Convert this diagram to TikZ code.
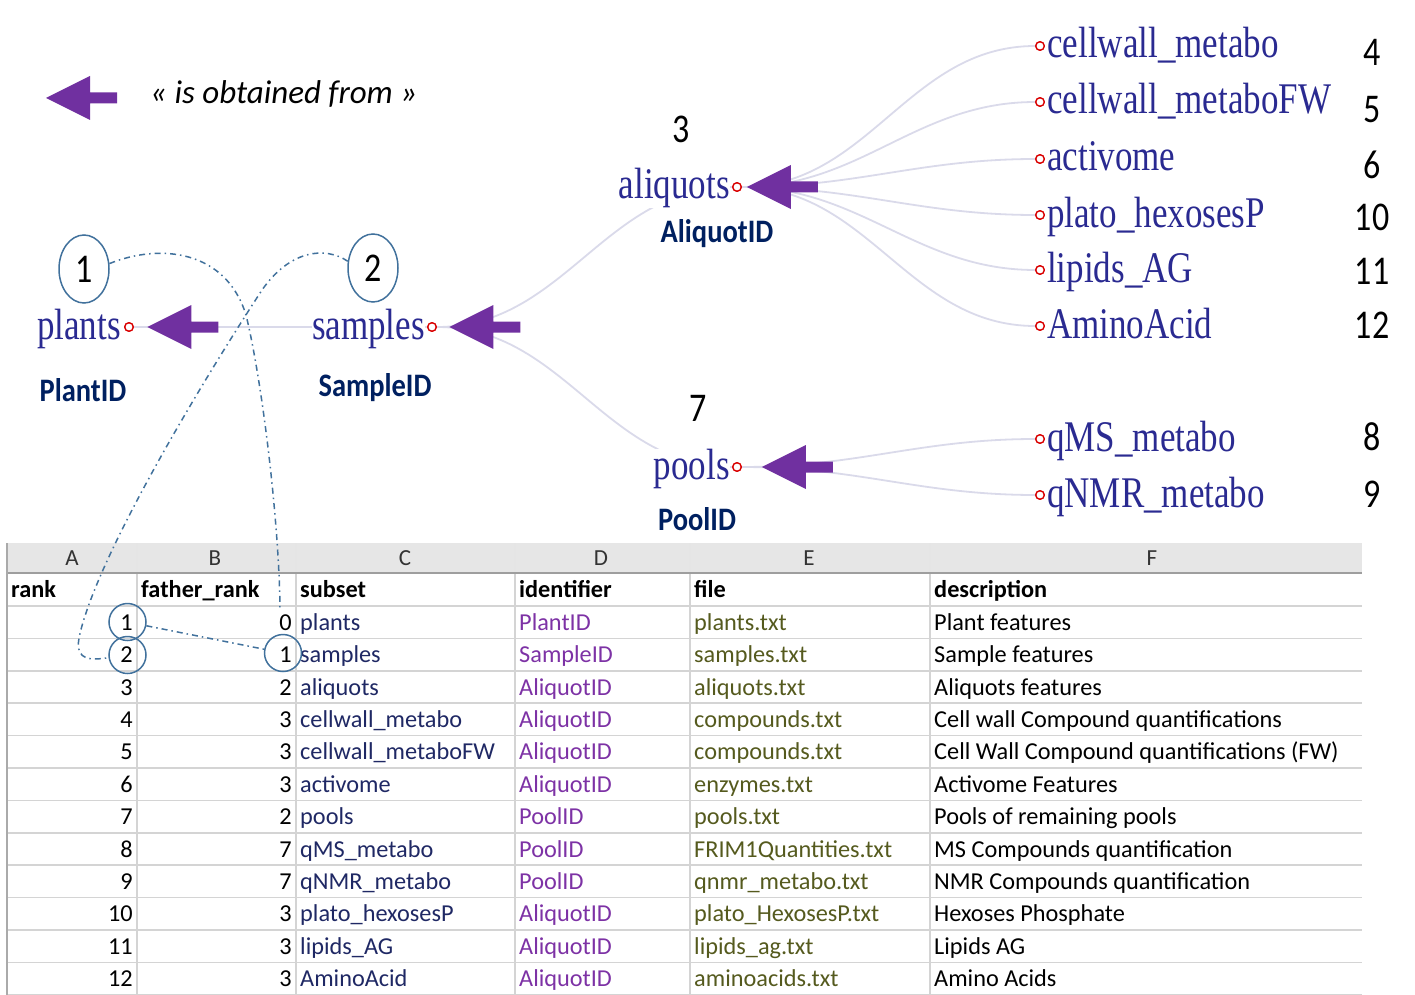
\documentclass[tikz,border=0pt]{standalone}
\usepackage{fontspec}
\usepackage{graphicx}
\setmainfont{Carlito}
\newfontfamily\tnr{Liberation Serif}
\usetikzlibrary{shapes.geometric,calc}
\definecolor{apurple}{RGB}{112,48,160}
\definecolor{lblue}{RGB}{42,42,145}
\definecolor{linkc}{RGB}{218,218,234}
\definecolor{idnavy}{RGB}{0,32,96}
\definecolor{dashc}{RGB}{65,113,156}
\definecolor{subc}{RGB}{31,40,100}
\definecolor{identc}{RGB}{125,50,165}
\definecolor{filec}{RGB}{85,90,30}
\definecolor{gridc}{RGB}{212,212,212}
\definecolor{hdrbg}{RGB}{230,230,230}
\definecolor{hdrline}{RGB}{158,158,158}
\newcommand\vst[2]{\scalebox{1}[#1]{#2}}
\newcommand\blockarrow[1]{\fill[apurple] (#1) -- ++(44,22) -- ++(0,-16.5) -- ++(27,0) -- ++(0,-11) -- ++(-27,0) -- ++(0,-16.5) -- cycle;}
\tikzset{
 treelbl/.style={font=\tnr\fontsize{35}{40}\selectfont, text=lblue, inner sep=0pt},
 dot/.style={circle, draw=red!85!black, fill=white, line width=1.3pt, minimum size=8.5pt, inner sep=0pt},
 link/.style={draw=linkc, line width=1.8pt},
 numlbl/.style={font=\fontsize{34}{40}\selectfont, inner sep=0pt},
 idlbl/.style={font=\bfseries\fontsize{28.5}{34}\selectfont, text=idnavy, inner sep=0pt},
 ring/.style={ellipse, draw=dashc, line width=1.5pt, minimum width=50pt, minimum height=68pt, inner sep=0pt, font=\fontsize{34}{40}\selectfont},
 cellring/.style={circle, draw=dashc, line width=1.5pt, minimum size=37pt, inner sep=0pt},
 dashdot/.style={draw=dashc, line width=1.5pt, dash pattern=on 6pt off 4pt on 1.5pt off 4pt},
 cell/.style={font=\fontsize{24.3}{28}\selectfont, inner sep=0pt},
 hcell/.style={font=\bfseries\fontsize{24.3}{28}\selectfont, inner sep=0pt},
 colhdr/.style={font=\fontsize{23}{26}\selectfont, text=black!80, inner sep=0pt},
}
\begin{document}
\begin{tikzpicture}[x=1pt,y=-1pt]
\useasboundingbox (0,0) rectangle (1415,995);

% ---------------- dots ----------------
\node[dot] (plantsDot) at (129,327) {};
\node[dot] (samplesDot) at (432,327) {};
\node[dot] (aliquotsDot) at (737,187) {};
\node[dot] (poolsDot) at (737,467) {};
\foreach \nm/\yy in {cwm/46, cwmfw/102, activ/159, plato/215, lipids/270, amino/326, qms/439, qnmr/495}
  \node[dot] (\nm Dot) at (1040,\yy) {};

% ---------------- links ----------------
\draw[link] (plantsDot) -- (samplesDot);
\draw[link] (samplesDot) to[out=0,in=180] (aliquotsDot);
\draw[link] (samplesDot) to[out=0,in=180] (poolsDot);
\foreach \nm in {cwm, cwmfw, activ, plato, lipids, amino}
  \draw[link] (aliquotsDot) to[out=0,in=180] (\nm Dot);
\foreach \nm in {qms, qnmr}
  \draw[link] (poolsDot) to[out=0,in=180] (\nm Dot);

% ---------------- tree labels ----------------
\node[treelbl, anchor=base east] (plants) at (121,339) {\vst{1.25}{plants}};
\node[treelbl, anchor=base east, fill=white] (samples) at (425,339) {\vst{1.25}{samples}};
\node[treelbl, anchor=base east, fill=white] (aliquots) at (730,199) {\vst{1.25}{aliquots}};
\node[treelbl, anchor=base east, fill=white] (pools) at (730,479) {\vst{1.25}{pools}};
\foreach \nm/\yy/\tx in {cwm/46/cellwall\_metabo, cwmfw/102/cellwall\_metaboFW, activ/159/activome, plato/215/plato\_hexosesP, lipids/270/lipids\_AG, amino/326/AminoAcid, qms/439/qMS\_metabo, qnmr/495/qNMR\_metabo}
  \node[treelbl, anchor=base west] (\nm) at (1047,\yy+12) {\vst{1.25}{\tx}};

% redraw dots on top of links
\foreach \nm in {plantsDot,samplesDot,aliquotsDot,poolsDot,cwmDot,cwmfwDot,activDot,platoDot,lipidsDot,aminoDot,qmsDot,qnmrDot}
  \node[dot] at (\nm) {};

% ---------------- block arrows ----------------
\coordinate (tipLegend) at (46,98);
\coordinate (tipPlants) at ([xshift=13.5]plantsDot.east);
\coordinate (tipSamples) at ([xshift=12.5]samplesDot.east);
\coordinate (tipAliquots) at ([xshift=5]aliquotsDot.east);
\coordinate (tipPools) at ([xshift=20]poolsDot.east);
\blockarrow{tipLegend}
\blockarrow{tipPlants}
\blockarrow{tipSamples}
\blockarrow{tipAliquots}
\blockarrow{tipPools}

\node[font=\itshape\fontsize{33}{38}\selectfont, anchor=west, inner sep=0pt] (legend) at (150,94) {« is obtained from »};

% ---------------- numbers ----------------
\node[numlbl] (n3) at (681,129) {\vst{1.2}{3}};
\node[numlbl] (n7) at (698,408) {\vst{1.2}{7}};
\foreach \nm/\yy/\tx in {n4/52/4, n5/110/5, n6/165/6, n10/217/10, n11/271/11, n12/325/12, n8/437/8, n9/494/9}
  \node[numlbl] (\nm) at (1372,\yy) {\vst{1.2}{\tx}};

% ---------------- id labels ----------------
\node[idlbl] (plantID) at (83,390) {\vst{1.15}{PlantID}};
\node[idlbl] (sampleID) at (375,388) {\vst{1.15}{SampleID}};
\node[idlbl] (aliquotID) at (717,234) {\vst{1.15}{AliquotID}};
\node[idlbl] (poolID) at (697,519) {\vst{1.15}{PoolID}};

% ---------------- rank ellipses ----------------
\node[ring] (e1) at (84,269) {\vst{1.2}{1}};
\node[ring] (e2) at (373,268) {\vst{1.2}{2}};

% ---------------- table ----------------
\fill[hdrbg] (7,543) rectangle (1362,573);
\foreach \xx in {137,296,515,690,930}
  \draw[white!80!gray, line width=1.2pt] (\xx,543) -- (\xx,573);
\foreach \nm/\xx/\tx in {hA/72/A, hB/215/B, hC/405/C, hD/601/D, hE/809/E, hF/1152/F}
  \node[colhdr] (\nm) at (\xx,558) {\tx};
\foreach \k in {0,...,12}
  \draw[gridc, line width=1.6pt] (7,606+32.4*\k) -- (1362,606+32.4*\k);
\foreach \xx in {7,137,296,515,690,930}
  \draw[gridc, line width=1.6pt] (\xx,573) -- (\xx,995);
\draw[hdrline, line width=1.6pt] (7,573) -- (1362,573);
\draw[gridc!80!black, line width=1.2pt] (7,543) -- (7,995);

\node[hcell, anchor=base west] (hrank) at (11,597) {rank};
\node[hcell, anchor=base west] (hfr) at (141,597) {father\_rank};
\node[hcell, anchor=base west] (hsub) at (300,597) {subset};
\node[hcell, anchor=base west] (hid) at (519,597) {identifier};
\node[hcell, anchor=base west] (hfile) at (694,597) {file};
\node[hcell, anchor=base west] (hdesc) at (934,597) {description};

\foreach \ra/\fr/\sub/\idf/\fil/\des [count=\k from 0] in {
 1/0/plants/PlantID/plants.txt/Plant features,
 2/1/samples/SampleID/samples.txt/Sample features,
 3/2/aliquots/AliquotID/aliquots.txt/Aliquots features,
 4/3/cellwall\_metabo/AliquotID/compounds.txt/Cell wall Compound quantifications,
 5/3/cellwall\_metaboFW/AliquotID/compounds.txt/Cell Wall Compound quantifications (FW),
 6/3/activome/AliquotID/enzymes.txt/Activome Features,
 7/2/pools/PoolID/pools.txt/Pools of remaining pools,
 8/7/qMS\_metabo/PoolID/FRIM1Quantities.txt/MS Compounds quantification,
 9/7/qNMR\_metabo/PoolID/qnmr\_metabo.txt/NMR Compounds quantification,
 10/3/plato\_hexosesP/AliquotID/plato\_HexosesP.txt/Hexoses Phosphate,
 11/3/lipids\_AG/AliquotID/lipids\_ag.txt/Lipids AG,
 12/3/AminoAcid/AliquotID/aminoacids.txt/Amino Acids}{
  \node[cell, anchor=base east] (ra\k) at (133,630.2+32.4*\k) {\ra};
  \node[cell, anchor=base east] (fr\k) at (292,630.2+32.4*\k) {\fr};
  \node[cell, anchor=base west, text=subc] (sb\k) at (300,630.2+32.4*\k) {\sub};
  \node[cell, anchor=base west, text=identc] (id\k) at (519,630.2+32.4*\k) {\idf};
  \node[cell, anchor=base west, text=filec] (fi\k) at (694,630.2+32.4*\k) {\fil};
  \node[cell, anchor=base west] (de\k) at (934,630.2+32.4*\k) {\des};
}

% ---------------- cell rings and dash-dot links ----------------
\node[cellring] (c1) at (127.5,622) {};
\node[cellring] (c2) at (127.5,655) {};
\node[cellring] (c3) at (283,653) {};
\coordinate (endA) at (280,608);

\draw[dashdot] (e1.12) .. controls (160,243) and (226,250) .. (246,315)
  .. controls (262,380) and (279,520) .. (endA);
\draw[dashdot] (e2.165) .. controls (325,246) and (290,250) .. (262,290)
  .. controls (200,385) and (95,560) .. (79,638)
  .. controls (75,662) and (92,660) .. (c2);
\draw[dashdot] (c1) -- (c3);
\end{tikzpicture}
\end{document}
